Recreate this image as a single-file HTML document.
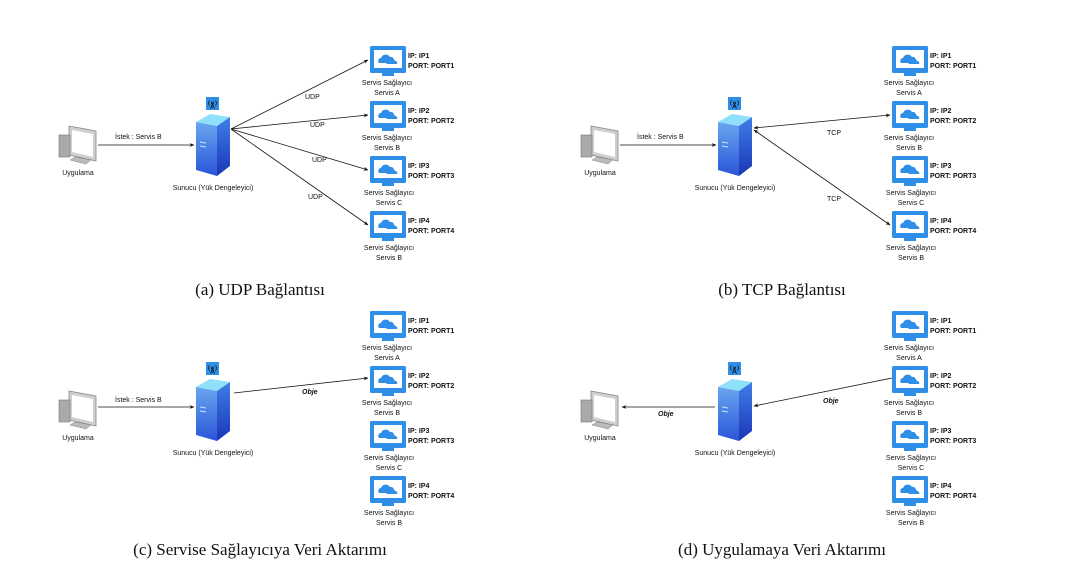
<!DOCTYPE html>
<html><head><meta charset="utf-8"><style>
html,body{margin:0;padding:0;background:#fff;}
svg{display:block;}
text{font-family:"Liberation Sans",sans-serif;fill:#111;}
.s{font-size:7px;}
.b{font-size:7px;font-weight:bold;}
.cap{font-family:"Liberation Serif",serif;font-size:17px;}
</style></head><body>
<svg width="1087" height="578" viewBox="0 0 1087 578" xmlns="http://www.w3.org/2000/svg">
<defs>
<marker id="ah" viewBox="0 0 10 10" refX="9" refY="5" markerWidth="6" markerHeight="6" orient="auto-start-reverse"><path d="M0,1 L10,5 L0,9 L3,5z" fill="#111"/></marker>
<linearGradient id="sg" x1="0" y1="0" x2="0" y2="1"><stop offset="0" stop-color="#6aa6f0"/><stop offset="1" stop-color="#2a55d8"/></linearGradient>
<linearGradient id="sg2" x1="0" y1="0" x2="0" y2="1"><stop offset="0" stop-color="#3f7ee8"/><stop offset="1" stop-color="#1c36b8"/></linearGradient>
<g id="mon">
<rect x="0" y="0" width="36" height="27" rx="1.5" fill="#2f8ee8"/>
<rect x="4" y="4" width="28" height="18" fill="#fff"/>
<path d="M9,17 a3,3 0 0 1 2,-5 a5,5 0 0 1 9,-1 a3.5,3.5 0 0 1 3,6z" fill="#2f8ee8"/>
<path d="M17,18 a2.5,2.5 0 0 1 3,-4 a3,3 0 0 1 5,1 a2,2 0 0 1 2,3z" fill="#2f8ee8"/>
<rect x="12" y="27" width="12" height="3" fill="#2f8ee8"/>
</g>
<g id="srv">
<path d="M196,122 L210,114 L230,117 L217,126z" fill="#8fe0fb"/>
<path d="M196,122 L217,126 L217,176 L196,170z" fill="url(#sg)"/>
<path d="M217,126 L230,117 L230,166 L217,176z" fill="url(#sg2)"/>
<path d="M200,142 l6,1 M200,146 l6,1" stroke="#cfe3ff" stroke-width="1"/>
<rect x="206" y="97" width="13" height="13" fill="#2f8ee8"/>
<g stroke="#111" stroke-width="0.8" fill="none">
<path d="M209.5,100.5 a4,4 0 0 0 0,5 M215.5,100.5 a4,4 0 0 1 0,5"/>
<circle cx="212.5" cy="103" r="1"/>
<path d="M210.5,108.5 L212.5,104 L214.5,108.5 M211.2,107 h2.6"/>
</g>
</g>
<g id="pc">
<path d="M69,126 L96,131 L96,161 L69,155z" fill="#cfcfcf" stroke="#888" stroke-width="0.8"/>
<path d="M72,130 L93,134 L93,157 L72,152z" fill="#fff"/>
<rect x="59" y="135" width="11" height="22" fill="#aaa" stroke="#777" stroke-width="0.6"/>
<path d="M70,160 L86,164 L91,160 L75,157z" fill="#bbb" stroke="#888" stroke-width="0.5"/>
</g>
<g id="base">
<use href="#pc"/>
<text class="s" x="78" y="175" text-anchor="middle">Uygulama</text>
<use href="#srv"/>
<text class="s" x="213" y="190" text-anchor="middle">Sunucu (Yük Dengeleyici)</text>
<use href="#mon" x="370" y="46"/>
<use href="#mon" x="370" y="101"/>
<use href="#mon" x="370" y="156"/>
<use href="#mon" x="370" y="211"/>
<text class="b" x="408" y="58">IP: IP1</text><text class="b" x="408" y="68">PORT: PORT1</text>
<text class="b" x="408" y="113">IP: IP2</text><text class="b" x="408" y="123">PORT: PORT2</text>
<text class="b" x="408" y="168">IP: IP3</text><text class="b" x="408" y="178">PORT: PORT3</text>
<text class="b" x="408" y="223">IP: IP4</text><text class="b" x="408" y="233">PORT: PORT4</text>
<text class="s" x="387" y="85" text-anchor="middle">Servis Sağlayıcı</text><text class="s" x="387" y="95" text-anchor="middle">Servis A</text>
<text class="s" x="387" y="140" text-anchor="middle">Servis Sağlayıcı</text><text class="s" x="387" y="150" text-anchor="middle">Servis B</text>
<text class="s" x="389" y="195" text-anchor="middle">Servis Sağlayıcı</text><text class="s" x="389" y="205" text-anchor="middle">Servis C</text>
<text class="s" x="389" y="250" text-anchor="middle">Servis Sağlayıcı</text><text class="s" x="389" y="260" text-anchor="middle">Servis B</text>
</g>
</defs>

<use href="#base"/>
<g stroke="#111" stroke-width="0.8" fill="none">
<line x1="98" y1="145" x2="194" y2="145" marker-end="url(#ah)"/>
<line x1="231" y1="129" x2="368" y2="60" marker-end="url(#ah)"/>
<line x1="231" y1="129" x2="368" y2="115" marker-end="url(#ah)"/>
<line x1="231" y1="129" x2="368" y2="170" marker-end="url(#ah)"/>
<line x1="231" y1="129" x2="368" y2="225" marker-end="url(#ah)"/>
</g>
<text class="s" x="115" y="139">İstek : Servis B</text>
<text class="s" x="305" y="99">UDP</text>
<text class="s" x="310" y="127">UDP</text>
<text class="s" x="312" y="162">UDP</text>
<text class="s" x="308" y="199">UDP</text>
<text class="cap" x="260" y="295" text-anchor="middle">(a) UDP Bağlantısı</text>

<g transform="translate(522,0)">
<use href="#base"/>
<g stroke="#111" stroke-width="0.8" fill="none">
<line x1="98" y1="145" x2="194" y2="145" marker-end="url(#ah)"/>
<line x1="232" y1="128" x2="368" y2="115" marker-start="url(#ah)" marker-end="url(#ah)"/>
<line x1="232" y1="130" x2="368" y2="225" marker-start="url(#ah)" marker-end="url(#ah)"/>
</g>
<text class="s" x="115" y="139">İstek : Servis B</text>
<text class="s" x="305" y="135">TCP</text>
<text class="s" x="305" y="201">TCP</text>
<text class="cap" x="260" y="295" text-anchor="middle">(b) TCP Bağlantısı</text>
</g>

<g transform="translate(0,265)">
<use href="#base"/>
<g stroke="#111" stroke-width="0.8" fill="none">
<line x1="98" y1="142" x2="194" y2="142" marker-end="url(#ah)"/>
<line x1="234" y1="128" x2="368" y2="113" marker-end="url(#ah)"/>
</g>
<text class="s" x="115" y="137">İstek : Servis B</text>
<text class="s" x="302" y="129" font-style="italic" font-weight="bold">Obje</text>
<text class="cap" x="260" y="290" text-anchor="middle">(c) Servise Sağlayıcıya Veri Aktarımı</text>
</g>

<g transform="translate(522,265)">
<use href="#base"/>
<g stroke="#111" stroke-width="0.8" fill="none">
<line x1="193" y1="142" x2="100" y2="142" marker-end="url(#ah)"/>
<line x1="370" y1="113" x2="232" y2="141" marker-end="url(#ah)"/>
</g>
<text class="s" x="136" y="151" font-style="italic" font-weight="bold">Obje</text>
<text class="s" x="301" y="138" font-style="italic" font-weight="bold">Obje</text>
<text class="cap" x="260" y="290" text-anchor="middle">(d) Uygulamaya Veri Aktarımı</text>
</g>
</svg>
</body></html>
